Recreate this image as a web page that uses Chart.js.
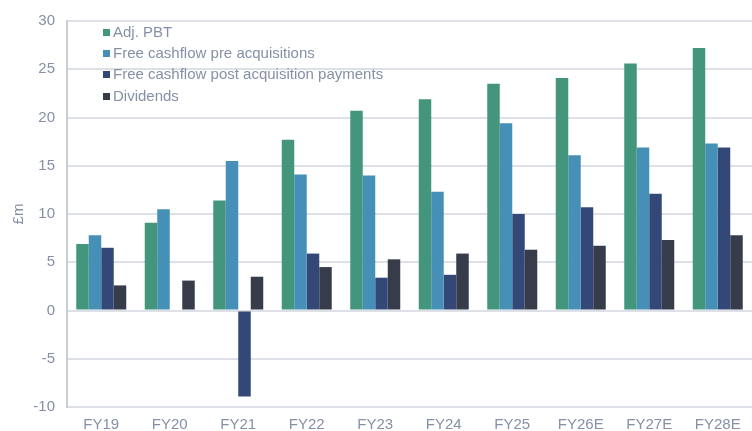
<!DOCTYPE html>
<html>
<head>
<meta charset="utf-8">
<script src="https://cdn.jsdelivr.net/npm/chart.js@4"></script>
<style>
  html, body { margin: 0; padding: 0; background: #fff; }
  #wrap { position: relative; width: 752px; height: 431px; }
  #legend { position: absolute; left: 103px; top: 21px; font-family: "Liberation Sans", Arial, sans-serif; font-size: 15px; color: #8590A6; }
  #legend div { height: 21.2px; line-height: 21.2px; white-space: nowrap; }
  #legend span { display: inline-block; width: 7px; height: 7px; margin-right: 3px; vertical-align: 1px; }
</style>
</head>
<body>
<div id="wrap">
  <canvas id="grafico"></canvas>
  <div id="legend"></div>
</div>
<script>
// dados
const categorias = ['FY19', 'FY20', 'FY21', 'FY22', 'FY23', 'FY24', 'FY25', 'FY26E', 'FY27E', 'FY28E'];
const adjPbt = [6.9, 9.1, 11.4, 17.7, 20.7, 21.9, 23.5, 24.1, 25.6, 27.2];
const fcfPre = [7.8, 10.5, 15.5, 14.1, 14.0, 12.3, 19.4, 16.1, 16.9, 17.3];
const fcfPost = [6.5, 0, -8.9, 5.9, 3.4, 3.7, 10.0, 10.7, 12.1, 16.9];
const dividendos = [2.6, 3.1, 3.5, 4.5, 5.3, 5.9, 6.3, 6.7, 7.3, 7.8];
const nomesSeries = ['Adj. PBT', 'Free cashflow pre acquisitions', 'Free cashflow post acquisition payments', 'Dividends'];
const cores = ['#43967C', '#468FB7', '#344877', '#363C4A'];
const ticksY = { min: -10, max: 30, passo: 5 };

const corTexto = '#8590A6';
const fonte = "'Liberation Sans', Arial, sans-serif";

const series = [adjPbt, fcfPre, fcfPost, dividendos];

const canvas = document.getElementById('grafico');
canvas.width = 752;
canvas.height = 431;

new Chart(canvas.getContext('2d'), {
  type: 'bar',
  data: {
    labels: categorias,
    datasets: series.map((valores, i) => ({
      label: nomesSeries[i],
      data: valores,
      backgroundColor: cores[i],
      borderWidth: 0,
      categoryPercentage: 0.73,
      barPercentage: 1
    }))
  },
  options: {
    responsive: false,
    animation: false,
    layout: { padding: { top: 10, right: 0, left: 10, bottom: 0 } },
    plugins: {
      legend: { display: false },
      tooltip: { enabled: false }
    },
    scales: {
      x: {
        grid: { display: false, drawTicks: false },
        border: { display: false },
        ticks: { color: corTexto, font: { family: fonte, size: 15 }, padding: 9 },
        afterFit: (s) => { s.height = 24; }
      },
      y: {
        min: ticksY.min,
        max: ticksY.max,
        ticks: { stepSize: ticksY.passo, color: corTexto, font: { family: fonte, size: 15 }, padding: 12 },
        grid: { color: '#DDE1E7', lineWidth: 2, drawTicks: false },
        border: { display: true, color: '#C9CCD1', width: 2 },
        title: { display: true, text: '£m', color: corTexto, font: { family: fonte, size: 15 }, padding: 0 },
        afterFit: (s) => { s.width = 57; }
      }
    }
  }
});

// legenda
const legendaDiv = document.getElementById('legend');
nomesSeries.forEach((nome, i) => {
  const linha = document.createElement('div');
  linha.innerHTML = `<span style="background:${cores[i]}"></span>${nome}`;
  legendaDiv.appendChild(linha);
});
</script>
</body>
</html>
